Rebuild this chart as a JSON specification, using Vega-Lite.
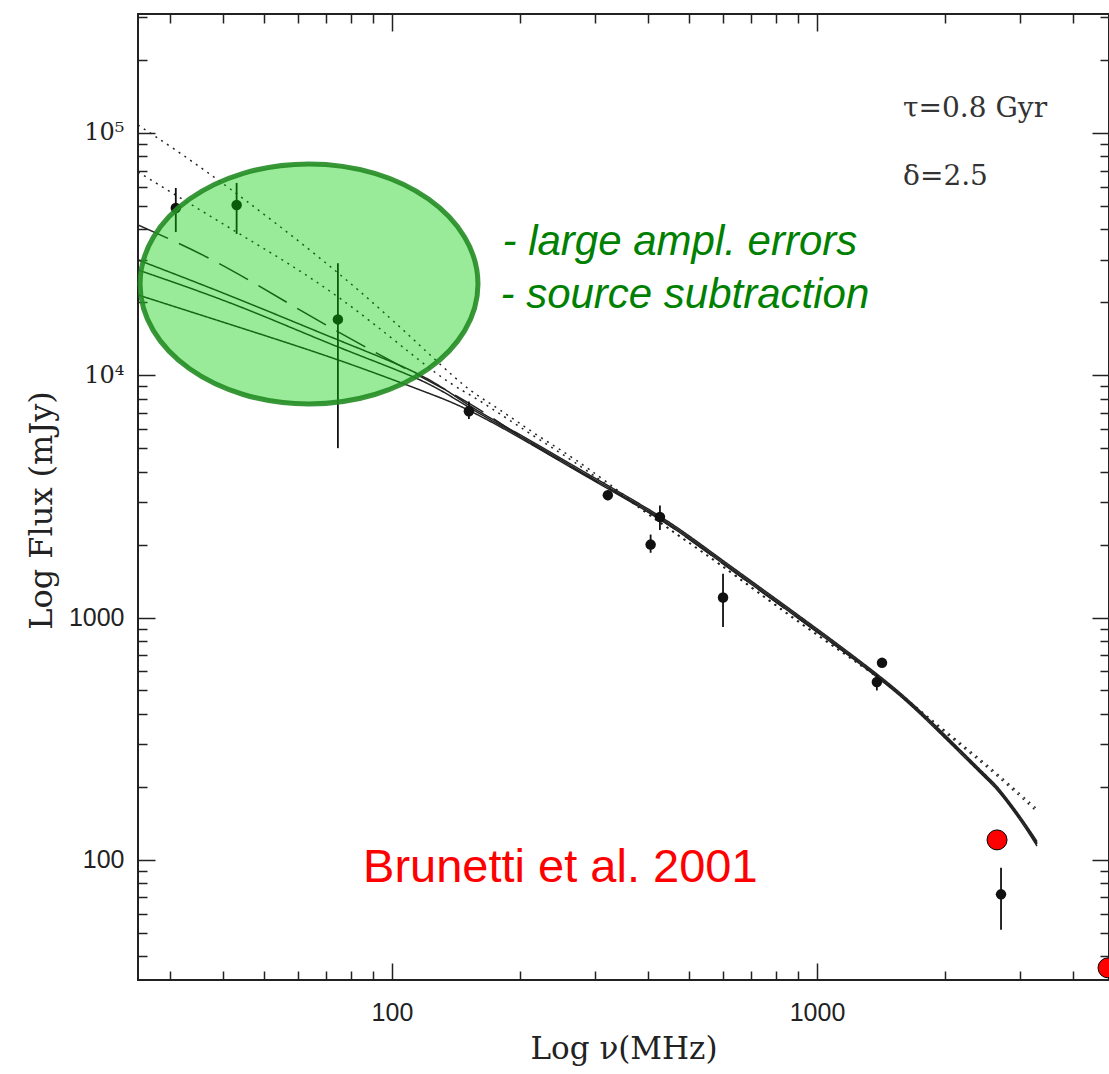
{
  "$schema": "https://vega.github.io/schema/vega-lite/v6.json",
  "width": 971,
  "height": 966,
  "autosize": {"type": "none"},
  "padding": {"left": 138, "top": 14, "right": 0, "bottom": 94},
  "background": "white",
  "config": {
    "view": {"stroke": "#222", "strokeWidth": 2},
    "axis": {
      "domain": false,
      "grid": false,
      "tickColor": "#222",
      "tickWidth": 1.5,
      "labelColor": "#222",
      "titleColor": "#222",
      "titleFontWeight": "normal"
    }
  },
  "datasets": {
    "models": [
      {"model": "dotA", "freq": 25.26, "flux": 107900},
      {"model": "dotA", "freq": 38.96, "flux": 63970},
      {"model": "dotA", "freq": 74.64, "flux": 26440},
      {"model": "dotA", "freq": 121.5, "flux": 12360},
      {"model": "dotA", "freq": 152.6, "flux": 8695},
      {"model": "dotA", "freq": 179.5, "flux": 7192},
      {"model": "dotA", "freq": 222.9, "flux": 5565},
      {"model": "dotA", "freq": 292.4, "flux": 4067},
      {"model": "dotA", "freq": 427.2, "flux": 2480},
      {"model": "dotA", "freq": 591.3, "flux": 1660},
      {"model": "dotA", "freq": 912, "flux": 955},
      {"model": "dotA", "freq": 1407, "flux": 560},
      {"model": "dotA", "freq": 1845, "flux": 383},
      {"model": "dotA", "freq": 2418, "flux": 260},
      {"model": "dotA", "freq": 3003, "flux": 187},
      {"model": "dotA", "freq": 3293, "flux": 162},

      {"model": "dotB", "freq": 25.26, "flux": 69020},
      {"model": "dotB", "freq": 43.41, "flux": 38670},
      {"model": "dotB", "freq": 74.64, "flux": 21050},
      {"model": "dotB", "freq": 121.5, "flux": 10820},
      {"model": "dotB", "freq": 152.6, "flux": 8292},
      {"model": "dotB", "freq": 179.5, "flux": 6924},
      {"model": "dotB", "freq": 222.9, "flux": 5408},
      {"model": "dotB", "freq": 292.4, "flux": 3953},
      {"model": "dotB", "freq": 427.2, "flux": 2460},
      {"model": "dotB", "freq": 591.3, "flux": 1650},
      {"model": "dotB", "freq": 912, "flux": 948},
      {"model": "dotB", "freq": 1407, "flux": 555},
      {"model": "dotB", "freq": 1845, "flux": 377},
      {"model": "dotB", "freq": 2418, "flux": 255},
      {"model": "dotB", "freq": 3003, "flux": 183},
      {"model": "dotB", "freq": 3293, "flux": 158},

      {"model": "dash", "freq": 25.26, "flux": 41720},
      {"model": "dash", "freq": 38.96, "flux": 29080},
      {"model": "dash", "freq": 62.42, "flux": 18080},
      {"model": "dash", "freq": 101.6, "flux": 11240},
      {"model": "dash", "freq": 152.6, "flux": 7614},
      {"model": "dash", "freq": 211.2, "flux": 5260},
      {"model": "dash", "freq": 292.4, "flux": 3770},
      {"model": "dash", "freq": 427.2, "flux": 2540},
      {"model": "dash", "freq": 591.3, "flux": 1700},
      {"model": "dash", "freq": 912, "flux": 980},
      {"model": "dash", "freq": 1407, "flux": 558},
      {"model": "dash", "freq": 1845, "flux": 368},
      {"model": "dash", "freq": 2418, "flux": 231},
      {"model": "dash", "freq": 2695, "flux": 189},
      {"model": "dash", "freq": 3003, "flux": 148},
      {"model": "dash", "freq": 3293, "flux": 116},

      {"model": "s1", "freq": 25.26, "flux": 29920},
      {"model": "s1", "freq": 43.41, "flux": 20650},
      {"model": "s1", "freq": 74.64, "flux": 13990},
      {"model": "s1", "freq": 116.4, "flux": 10030},
      {"model": "s1", "freq": 152.6, "flux": 7470},
      {"model": "s1", "freq": 211.2, "flux": 5385},
      {"model": "s1", "freq": 292.4, "flux": 3862},
      {"model": "s1", "freq": 427.2, "flux": 2616},
      {"model": "s1", "freq": 591.3, "flux": 1755},
      {"model": "s1", "freq": 912, "flux": 1011},
      {"model": "s1", "freq": 1407, "flux": 571},
      {"model": "s1", "freq": 1845, "flux": 376},
      {"model": "s1", "freq": 2418, "flux": 236},
      {"model": "s1", "freq": 2695, "flux": 194},
      {"model": "s1", "freq": 3003, "flux": 151},
      {"model": "s1", "freq": 3293, "flux": 119},

      {"model": "s2", "freq": 25.26, "flux": 27200},
      {"model": "s2", "freq": 43.41, "flux": 19320},
      {"model": "s2", "freq": 74.64, "flux": 13090},
      {"model": "s2", "freq": 116.4, "flux": 9563},
      {"model": "s2", "freq": 152.6, "flux": 7329},
      {"model": "s2", "freq": 211.2, "flux": 5305},
      {"model": "s2", "freq": 292.4, "flux": 3805},
      {"model": "s2", "freq": 427.2, "flux": 2577},
      {"model": "s2", "freq": 591.3, "flux": 1729},
      {"model": "s2", "freq": 912, "flux": 996},
      {"model": "s2", "freq": 1407, "flux": 563},
      {"model": "s2", "freq": 1845, "flux": 371},
      {"model": "s2", "freq": 2418, "flux": 233},
      {"model": "s2", "freq": 2695, "flux": 191},
      {"model": "s2", "freq": 3003, "flux": 149},
      {"model": "s2", "freq": 3293, "flux": 117},

      {"model": "s3", "freq": 25.26, "flux": 21450},
      {"model": "s3", "freq": 43.41, "flux": 15830},
      {"model": "s3", "freq": 74.64, "flux": 11570},
      {"model": "s3", "freq": 116.4, "flux": 8695},
      {"model": "s3", "freq": 152.6, "flux": 7124},
      {"model": "s3", "freq": 211.2, "flux": 5225},
      {"model": "s3", "freq": 292.4, "flux": 3748},
      {"model": "s3", "freq": 427.2, "flux": 2538},
      {"model": "s3", "freq": 591.3, "flux": 1703},
      {"model": "s3", "freq": 912, "flux": 981},
      {"model": "s3", "freq": 1407, "flux": 555},
      {"model": "s3", "freq": 1845, "flux": 365},
      {"model": "s3", "freq": 2418, "flux": 229},
      {"model": "s3", "freq": 2695, "flux": 188},
      {"model": "s3", "freq": 3003, "flux": 146},
      {"model": "s3", "freq": 3293, "flux": 114}
    ],
    "obs": [
      {"freq": 31.0, "flux": 49000, "lo": 39000, "hi": 59300},
      {"freq": 43.1, "flux": 50400, "lo": 38300, "hi": 62200},
      {"freq": 74.6, "flux": 17000, "lo": 5000, "hi": 29000},
      {"freq": 151.7, "flux": 7100, "lo": 6600, "hi": 7800},
      {"freq": 322, "flux": 3200, "lo": 3050, "hi": 3350},
      {"freq": 427, "flux": 2600, "lo": 2300, "hi": 2900},
      {"freq": 406, "flux": 2000, "lo": 1850, "hi": 2200},
      {"freq": 601, "flux": 1210, "lo": 914, "hi": 1514},
      {"freq": 1383, "flux": 542, "lo": 500, "hi": 580},
      {"freq": 1422, "flux": 650, "lo": 630, "hi": 670},
      {"freq": 2710, "flux": 72, "lo": 51.4, "hi": 92.6}
    ],
    "recent": [
      {"freq": 2652, "flux": 120.8},
      {"freq": 4838, "flux": 35.8}
    ],
    "region": [
      {"freq": 63.8, "flux": 23820}
    ],
    "params": [
      {"freq": 1594, "flux": 116400, "text": "τ=0.8 Gyr"},
      {"freq": 1594, "flux": 61000, "text": "δ=2.5"}
    ],
    "remarks": [
      {"freq": 182, "flux": 31370, "text": "- large ampl. errors"},
      {"freq": 180, "flux": 18960, "text": "- source subtraction"}
    ],
    "credit": [
      {"freq": 85.5, "flux": 81.1, "text": "Brunetti et al. 2001"}
    ]
  },
  "layer": [
    {
      "data": {"name": "models"},
      "mark": {"type": "line", "interpolate": "natural", "strokeWidth": 1.5, "color": "#222", "clip": true},
      "encoding": {
        "x": {
          "field": "freq", "type": "quantitative",
          "scale": {"type": "log", "domain": [25.26, 4864], "nice": false},
          "axis": {
            "orient": "bottom",
            "values": [100, 1000],
            "tickSize": -17,
            "labelPadding": 37,
            "labelFont": "Liberation Sans",
            "labelFontSize": 25,
            "labelExpr": "datum.value == 100 ? '100' : '1000'",
            "title": "Log ν(MHz)",
            "titleFont": "DejaVu Serif",
            "titleFontSize": 31,
            "titlePadding": 9
          }
        },
        "y": {
          "field": "flux", "type": "quantitative",
          "scale": {"type": "log", "domain": [31.9, 309800], "nice": false},
          "axis": {
            "orient": "left",
            "values": [100, 1000, 10000, 100000],
            "tickSize": -17,
            "labelPadding": 31,
            "labelFont": {"condition": {"test": "datum.value >= 10000", "value": "DejaVu Serif"}, "value": "Liberation Sans"},
            "labelFontSize": {"condition": {"test": "datum.value >= 10000", "value": 24}, "value": 25},
            "labelExpr": "datum.value >= 100000 ? '10⁵' : datum.value >= 10000 ? '10⁴' : datum.value >= 1000 ? '1000' : '100'",
            "title": "Log Flux (mJy)",
            "titleFont": "DejaVu Serif",
            "titleFontSize": 32,
            "titlePadding": 10,
            "titleY": 496
          }
        },
        "detail": {"field": "model", "type": "nominal"},
        "strokeDash": {
          "field": "model", "type": "nominal",
          "scale": {
            "domain": ["dotA", "dotB", "dash", "s1", "s2", "s3"],
            "range": [[2, 5], [2, 5], [33, 12], [1, 0], [1, 0], [1, 0]]
          },
          "legend": null
        }
      }
    },
    {
      "data": {"name": "obs"},
      "mark": {"type": "rule", "color": "#111", "strokeWidth": 1.8},
      "encoding": {
        "x": {
          "field": "freq", "type": "quantitative",
          "scale": {"type": "log", "domain": [25.26, 4864], "nice": false},
          "axis": {
            "orient": "bottom",
            "values": [30, 40, 50, 60, 70, 80, 90, 200, 300, 400, 500, 600, 700, 800, 900, 2000, 3000, 4000],
            "tickSize": -9,
            "labels": false,
            "title": null
          }
        },
        "y": {
          "field": "lo", "type": "quantitative",
          "scale": {"type": "log", "domain": [31.9, 309800], "nice": false},
          "axis": {
            "orient": "left",
            "values": [40, 50, 60, 70, 80, 90, 200, 300, 400, 500, 600, 700, 800, 900, 2000, 3000, 4000, 5000, 6000, 7000, 8000, 9000, 20000, 30000, 40000, 50000, 60000, 70000, 80000, 90000, 200000, 300000],
            "tickSize": -9,
            "labels": false,
            "title": null
          }
        },
        "y2": {"field": "hi"}
      }
    },
    {
      "data": {"name": "obs"},
      "mark": {"type": "point", "filled": true, "color": "#111", "size": 110, "opacity": 1},
      "encoding": {
        "x": {
          "field": "freq", "type": "quantitative",
          "scale": {"type": "log", "domain": [25.26, 4864], "nice": false},
          "axis": {
            "orient": "top",
            "values": [100, 1000],
            "tickSize": -17,
            "labels": false,
            "title": null
          }
        },
        "y": {
          "field": "flux", "type": "quantitative",
          "scale": {"type": "log", "domain": [31.9, 309800], "nice": false},
          "axis": {
            "orient": "right",
            "values": [100, 1000, 10000, 100000],
            "tickSize": -17,
            "labels": false,
            "title": null
          }
        }
      }
    },
    {
      "data": {"name": "region"},
      "mark": {
        "type": "point",
        "shape": "M -1.408 0 A 1.408 1 0 1 1 1.408 0 A 1.408 1 0 1 1 -1.408 0 Z",
        "size": 57600,
        "filled": true,
        "fill": "#00cc00",
        "fillOpacity": 0.4,
        "stroke": "#238c23",
        "strokeOpacity": 0.9,
        "strokeWidth": 5,
        "opacity": 1
      },
      "encoding": {
        "x": {
          "field": "freq", "type": "quantitative",
          "scale": {"type": "log", "domain": [25.26, 4864], "nice": false},
          "axis": {
            "orient": "top",
            "values": [30, 40, 50, 60, 70, 80, 90, 200, 300, 400, 500, 600, 700, 800, 900, 2000, 3000, 4000],
            "tickSize": -9,
            "labels": false,
            "title": null
          }
        },
        "y": {
          "field": "flux", "type": "quantitative",
          "scale": {"type": "log", "domain": [31.9, 309800], "nice": false},
          "axis": {
            "orient": "right",
            "values": [40, 50, 60, 70, 80, 90, 200, 300, 400, 500, 600, 700, 800, 900, 2000, 3000, 4000, 5000, 6000, 7000, 8000, 9000, 20000, 30000, 40000, 50000, 60000, 70000, 80000, 90000, 200000, 300000],
            "tickSize": -9,
            "labels": false,
            "title": null
          }
        }
      }
    },
    {
      "data": {"name": "recent"},
      "mark": {"type": "point", "filled": true, "fill": "#ff0000", "stroke": "#000", "strokeWidth": 1, "size": 400, "opacity": 1},
      "encoding": {
        "x": {"field": "freq", "type": "quantitative", "scale": {"type": "log", "domain": [25.26, 4864], "nice": false}, "axis": null},
        "y": {"field": "flux", "type": "quantitative", "scale": {"type": "log", "domain": [31.9, 309800], "nice": false}, "axis": null}
      }
    },
    {
      "data": {"name": "params"},
      "mark": {"type": "text", "align": "left", "baseline": "alphabetic", "font": "DejaVu Serif", "fontSize": 28, "color": "#333"},
      "encoding": {
        "x": {"field": "freq", "type": "quantitative", "scale": {"type": "log", "domain": [25.26, 4864], "nice": false}, "axis": null},
        "y": {"field": "flux", "type": "quantitative", "scale": {"type": "log", "domain": [31.9, 309800], "nice": false}, "axis": null},
        "text": {"field": "text"}
      }
    },
    {
      "data": {"name": "remarks"},
      "mark": {"type": "text", "align": "left", "baseline": "alphabetic", "font": "Liberation Sans", "fontStyle": "italic", "fontSize": 42, "color": "#008000"},
      "encoding": {
        "x": {"field": "freq", "type": "quantitative", "scale": {"type": "log", "domain": [25.26, 4864], "nice": false}, "axis": null},
        "y": {"field": "flux", "type": "quantitative", "scale": {"type": "log", "domain": [31.9, 309800], "nice": false}, "axis": null},
        "text": {"field": "text"}
      }
    },
    {
      "data": {"name": "credit"},
      "mark": {"type": "text", "align": "left", "baseline": "alphabetic", "font": "Liberation Sans", "fontSize": 47, "color": "#ff0000"},
      "encoding": {
        "x": {"field": "freq", "type": "quantitative", "scale": {"type": "log", "domain": [25.26, 4864], "nice": false}, "axis": null},
        "y": {"field": "flux", "type": "quantitative", "scale": {"type": "log", "domain": [31.9, 309800], "nice": false}, "axis": null},
        "text": {"field": "text"}
      }
    }
  ],
  "resolve": {"axis": {"x": "independent", "y": "independent"}}
}
